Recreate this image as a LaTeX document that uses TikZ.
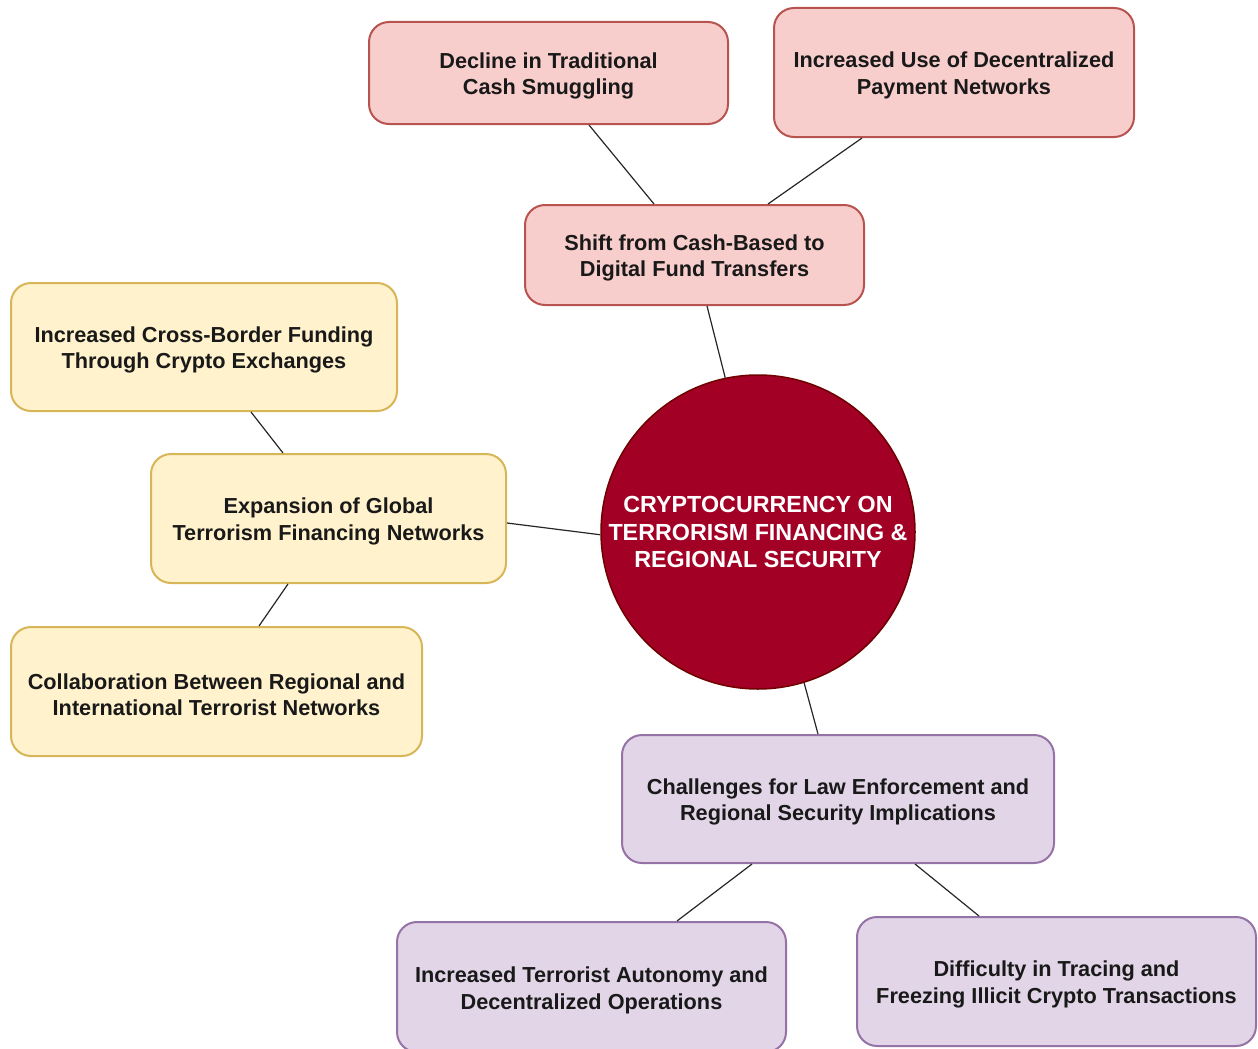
\documentclass[tikz,border=0pt]{standalone}
\usepackage{fontspec}
\setmainfont{Liberation Sans}
\usetikzlibrary{calc}
\definecolor{pinkfill}{HTML}{F8CECC}
\definecolor{pinkline}{HTML}{B85450}
\definecolor{yellowfill}{HTML}{FFF2CC}
\definecolor{yellowline}{HTML}{D6B656}
\definecolor{violetfill}{HTML}{E1D5E7}
\definecolor{violetline}{HTML}{9673A6}
\definecolor{corefill}{HTML}{A20025}
\definecolor{coreline}{HTML}{6F0000}
% invisible strut that lowers a two-line label a little inside its box
\newcommand\boxstrut{\rule{0pt}{22pt}}
\begin{document}
\begin{tikzpicture}[x=1pt,y=-1pt,
  box/.style={draw, rounded corners=20pt, line width=2pt, inner sep=0pt,
    align=center, text=black!90, font=\bfseries\fontsize{21.7}{26.5}\selectfont},
  pinkbox/.style={box, fill=pinkfill, draw=pinkline},
  yellowbox/.style={box, fill=yellowfill, draw=yellowline},
  violetbox/.style={box, fill=violetfill, draw=violetline},
  core/.style={circle, minimum size=314pt, inner sep=0pt, fill=corefill,
    draw=coreline, line width=1.5pt, align=center, text=white,
    font=\bfseries\fontsize{23.3}{27.5}\selectfont},
  link/.style={draw=black!85, line width=1.2pt}]
\useasboundingbox (0,0) rectangle (1258,1049);

% central topic
\node[core] (c) at (758,532) {CRYPTOCURRENCY ON\\TERRORISM FINANCING \&\\REGIONAL SECURITY};

% upper branch
\node[pinkbox, minimum width=339pt, minimum height=100pt] (shift) at (694.5,255)
  {\boxstrut Shift from Cash-Based to\\Digital Fund Transfers};
\node[pinkbox, minimum width=359pt, minimum height=102pt] (dec) at (548.5,73)
  {\boxstrut Decline in Traditional\\Cash Smuggling};
\node[pinkbox, minimum width=360pt, minimum height=129pt] (dpn) at (954,72.5)
  {\boxstrut Increased Use of Decentralized\\Payment Networks};

% left branch
\node[yellowbox, minimum width=355pt, minimum height=129pt] (exp) at (328.5,518.5)
  {\boxstrut Expansion of Global\\Terrorism Financing Networks};
\node[yellowbox, minimum width=386pt, minimum height=128pt] (xb) at (204,347)
  {\boxstrut Increased Cross-Border Funding\\Through Crypto Exchanges};
\node[yellowbox, minimum width=411pt, minimum height=129pt] (col) at (216.5,691.5)
  {\boxstrut Collaboration Between Regional and\\International Terrorist Networks};

% lower branch
\node[violetbox, minimum width=432pt, minimum height=128pt] (law) at (838,799)
  {\boxstrut Challenges for Law Enforcement and\\Regional Security Implications};
\node[violetbox, minimum width=389pt, minimum height=130pt] (aut) at (591.5,987)
  {\boxstrut Increased Terrorist Autonomy and\\Decentralized Operations};
\node[violetbox, minimum width=399pt, minimum height=129pt] (dif) at (1056.5,981.5)
  {\boxstrut Difficulty in Tracing and\\Freezing Illicit Crypto Transactions};

% connectors
\draw[link] ($(dec.south)+(40.5,0)$) -- ($(shift.north)+(-40.5,0)$);
\draw[link] ($(dpn.south)+(-92,0)$) -- ($(shift.north)+(73.5,0)$);
\draw[link] ($(shift.south)+(12.5,0)$) -- (c.102.5);
\draw[link] ($(xb.south)+(47,0)$) -- ($(exp.north)+(-45.5,0)$);
\draw[link] ($(exp.east)+(0,4.5)$) -- (c.181.5);
\draw[link] ($(exp.south)+(-40.5,0)$) -- ($(col.north)+(42.5,0)$);
\draw[link] (c.-73.7) -- ($(law.north)+(-20,0)$);
\draw[link] ($(law.south)+(-86,0)$) -- ($(aut.north)+(85.5,0)$);
\draw[link] ($(law.south)+(77,0)$) -- ($(dif.north)+(-77.5,0)$);
\end{tikzpicture}
\end{document}
